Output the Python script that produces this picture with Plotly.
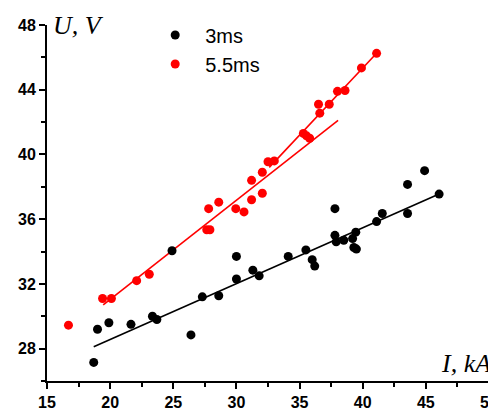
import plotly.graph_objects as go

# 3 ms series (I in kA, U in V)
i_3ms = [18.7, 19.0, 19.9, 21.65, 23.35, 23.7, 24.9, 26.4, 27.3, 28.6, 30.0, 30.0,
         31.3, 31.8, 34.1, 35.5, 36.0, 36.2, 37.8, 37.8, 37.9, 38.5, 39.2, 39.45,
         39.3, 39.5, 41.1, 41.55, 43.55, 43.55, 44.9, 46.05]
u_3ms = [27.15, 29.2, 29.6, 29.5, 30.0, 29.8, 34.05, 28.85, 31.2, 31.27, 33.7, 32.3,
         32.85, 32.5, 33.7, 34.1, 33.5, 33.1, 36.65, 35.0, 34.6, 34.7, 34.8, 35.2,
         34.25, 34.15, 35.85, 36.35, 38.15, 36.35, 39.0, 37.55]

# 5.5 ms series
i_55ms = [16.7, 19.4, 20.1, 22.1, 23.1, 27.65, 27.9, 27.8, 28.6, 29.95, 30.6, 31.2,
          32.05, 31.2, 32.05, 32.5, 33.0, 35.3, 35.55, 35.8, 36.6, 36.5, 37.35, 38.0,
          38.6, 39.9, 41.1]
u_55ms = [29.45, 31.1, 31.1, 32.2, 32.6, 35.35, 35.35, 36.65, 37.05, 36.65, 36.45, 37.2,
          37.6, 38.4, 38.9, 39.55, 39.6, 41.3, 41.15, 41.0, 42.55, 43.1, 43.1, 43.9,
          43.95, 45.35, 46.25]

# fitted lines (end points)
fit_3ms_i = [18.7, 46.05]
fit_3ms_u = [28.12, 37.56]
fit_55a_i = [19.45, 38.05]
fit_55a_u = [30.7, 42.1]
fit_55b_i = [32.6, 41.1]
fit_55b_u = [39.2, 46.25]

x_ticks = [15, 20, 25, 30, 35, 40, 45, 50]
y_ticks = [28, 32, 36, 40, 44, 48]

fig = go.Figure()
fig.add_trace(go.Scatter(x=fit_3ms_i, y=fit_3ms_u, mode="lines",
                         line=dict(color="black", width=1.6), showlegend=False, hoverinfo="skip"))
fig.add_trace(go.Scatter(x=fit_55a_i, y=fit_55a_u, mode="lines",
                         line=dict(color="#ff0000", width=1.6), showlegend=False, hoverinfo="skip"))
fig.add_trace(go.Scatter(x=fit_55b_i, y=fit_55b_u, mode="lines",
                         line=dict(color="#ff0000", width=1.6), showlegend=False, hoverinfo="skip"))
fig.add_trace(go.Scatter(x=i_3ms, y=u_3ms, mode="markers", name="3ms",
                         marker=dict(color="black", size=9)))
fig.add_trace(go.Scatter(x=i_55ms, y=u_55ms, mode="markers", name="5.5ms",
                         marker=dict(color="#ff0000", size=9)))

axis_common = dict(
    showgrid=False, zeroline=False, showline=True, linecolor="black", linewidth=2,
    ticks="outside", ticklen=6, tickwidth=1.5, tickcolor="black",
    tickfont=dict(family="Liberation Sans, Arial, sans-serif", size=16, color="black", weight="bold"),
)

fig.update_xaxes(range=[15, 50], tickvals=x_ticks, ticktext=[str(v) for v in x_ticks],
                 minor=dict(dtick=2.5, tick0=15, ticks="outside", ticklen=4, tickwidth=1.5, tickcolor="black"),
                 **axis_common)
fig.update_yaxes(range=[26, 48], tickvals=y_ticks, ticktext=[str(v) for v in y_ticks],
                 minor=dict(dtick=2, tick0=26, ticks="outside", ticklen=4, tickwidth=1.5, tickcolor="black"),
                 **axis_common)

title_font = dict(family="Liberation Serif, Times New Roman, serif", size=26, color="black", style="italic")
fig.add_annotation(text="U, V", xref="paper", yref="paper", x=0.008, y=1.0,
                   xanchor="left", yanchor="middle", showarrow=False, font=title_font)
fig.add_annotation(text="I, kA", xref="paper", yref="paper", x=1.008, y=0.05,
                   xanchor="right", yanchor="middle", showarrow=False, font=title_font)

# the page body keeps its default 8px margin, so the figure is laid out
# with margins that place the plot area where the reference has it
fig.update_layout(
    width=496, height=411,
    margin=dict(l=39, r=15, t=17, b=38, autoexpand=False),
    plot_bgcolor="white", paper_bgcolor="white",
    legend=dict(x=0.2222, y=1.0267, xanchor="left", yanchor="top",
                font=dict(family="Liberation Sans, Arial, sans-serif", size=20, color="black"),
                bgcolor="rgba(0,0,0,0)", itemwidth=50),
)

fig.write_html("out.html", config={"displayModeBar": False})
